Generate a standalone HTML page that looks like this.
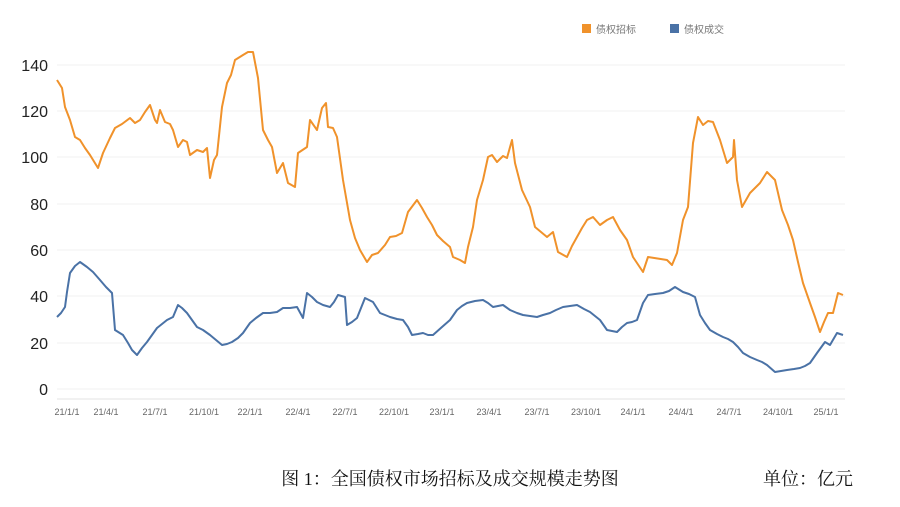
<!DOCTYPE html>
<html><head><meta charset="utf-8"><style>
body{margin:0;background:#fff;width:900px;height:502px;overflow:hidden;}
</style></head><body>
<svg width="900" height="502" xmlns="http://www.w3.org/2000/svg" font-family="Liberation Sans, Noto Sans CJK SC, sans-serif">
<g stroke="#f2f2f2" stroke-width="1">
<line x1="57" x2="845" y1="65" y2="65"/><line x1="57" x2="845" y1="111" y2="111"/><line x1="57" x2="845" y1="157" y2="157"/><line x1="57" x2="845" y1="204" y2="204"/><line x1="57" x2="845" y1="250" y2="250"/><line x1="57" x2="845" y1="296" y2="296"/><line x1="57" x2="845" y1="343" y2="343"/><line x1="57" x2="845" y1="389" y2="389"/>
</g>
<line x1="57" x2="845" y1="399" y2="399" stroke="#e3e3e3"/>
<g font-size="16" fill="#222" text-anchor="end">
<text x="48" y="71">140</text><text x="48" y="117">120</text><text x="48" y="163">100</text><text x="48" y="210">80</text><text x="48" y="256">60</text><text x="48" y="302">40</text><text x="48" y="349">20</text><text x="48" y="395">0</text>
</g>
<g font-size="9" fill="#666" text-anchor="middle">
<text x="67" y="415">21/1/1</text><text x="106" y="415">21/4/1</text><text x="155" y="415">21/7/1</text><text x="204" y="415">21/10/1</text><text x="250" y="415">22/1/1</text><text x="298" y="415">22/4/1</text><text x="345" y="415">22/7/1</text><text x="394" y="415">22/10/1</text><text x="442" y="415">23/1/1</text><text x="489" y="415">23/4/1</text><text x="537" y="415">23/7/1</text><text x="586" y="415">23/10/1</text><text x="633" y="415">24/1/1</text><text x="681" y="415">24/4/1</text><text x="729" y="415">24/7/1</text><text x="778" y="415">24/10/1</text><text x="826" y="415">25/1/1</text>
</g>
<rect x="582" y="24" width="9" height="9" fill="#f0922b"/><text x="596" y="33" font-size="10" fill="#777">债权招标</text>
<rect x="670" y="24" width="9" height="9" fill="#4a72a6"/><text x="684" y="33" font-size="10" fill="#777">债权成交</text>
<polyline fill="none" stroke="#f0922b" stroke-width="2" stroke-linejoin="round" points="57,80 62,88 65,107 70,120 75,137 80,140 85,148 90,155 98,168 103,153 110,138 115,128 122,124 130,118 135,123 140,120 145,112 150,105 155,120 157,123 160,110 165,122 170,124 173,130 178,147 183,140 187,142 190,155 197,150 203,152 207,148 210,178 214,160 217,155 222,107 227,83 231,75 235,60 243,55 248,52 253,52 258,78 263,130 268,140 272,147 277,173 283,163 288,183 295,187 298,153 307,147 310,120 317,130 322,108 326,103 328,127 333,128 337,137 343,180 350,220 355,238 360,250 367,262 372,255 378,253 385,245 390,237 396,236 402,233 408,212 417,200 422,208 427,217 432,225 437,235 443,241 450,247 453,257 460,260 465,263 468,247 473,227 477,200 483,180 488,157 492,155 497,162 503,156 507,158 512,140 515,163 522,190 530,207 535,227 541,232 547,237 553,232 558,252 567,257 572,246 577,237 582,228 587,220 593,217 600,225 607,220 613,217 620,230 627,240 633,257 643,272 648,257 667,260 672,265 677,253 683,220 688,207 693,143 698,117 703,125 708,121 713,122 720,140 727,163 733,157 734,140 737,180 742,207 750,193 760,183 767,172 775,180 782,210 788,225 793,240 798,262 803,283 810,303 815,317 820,332 824,322 828,313 833,313 838,293 843,295"/>
<polyline fill="none" stroke="#4a72a6" stroke-width="2" stroke-linejoin="round" points="57,317 61,313 65,307 67,292 70,273 75,266 80,262 87,267 93,272 100,280 106,287 112,293 115,330 123,335 128,343 132,350 137,355 142,348 147,342 152,335 157,328 162,324 167,320 173,317 178,305 182,308 187,313 192,320 197,327 203,330 210,335 216,340 222,345 227,344 232,342 238,338 243,333 250,323 256,318 263,313 270,313 277,312 283,308 290,308 297,307 303,318 307,293 312,297 317,302 323,305 330,307 334,302 338,295 345,297 347,325 352,322 357,318 361,308 365,298 373,302 380,313 385,315 390,317 397,319 403,320 408,327 412,335 418,334 423,333 428,335 433,335 442,327 450,320 457,310 462,306 467,303 475,301 483,300 488,303 493,307 503,305 510,310 517,313 523,315 530,316 537,317 543,315 550,313 556,310 563,307 570,306 577,305 584,309 590,312 600,320 607,330 612,331 617,332 622,327 627,323 632,322 637,320 643,303 648,295 655,294 663,293 669,291 675,287 683,292 689,294 695,297 700,315 705,323 710,330 717,334 723,337 728,339 733,342 738,347 743,353 750,357 757,360 762,362 767,365 775,372 781,371 787,370 794,369 800,368 805,366 810,363 817,353 825,342 830,345 837,333 843,335"/>
<text x="450" y="485" font-size="18" text-anchor="middle" fill="#111" font-family="Liberation Serif, Noto Serif CJK SC, serif">图 1：全国债权市场招标及成交规模走势图</text>
<text x="808" y="485" font-size="18" text-anchor="middle" fill="#111" font-family="Liberation Serif, Noto Serif CJK SC, serif">单位：亿元</text>
</svg>
</body></html>
